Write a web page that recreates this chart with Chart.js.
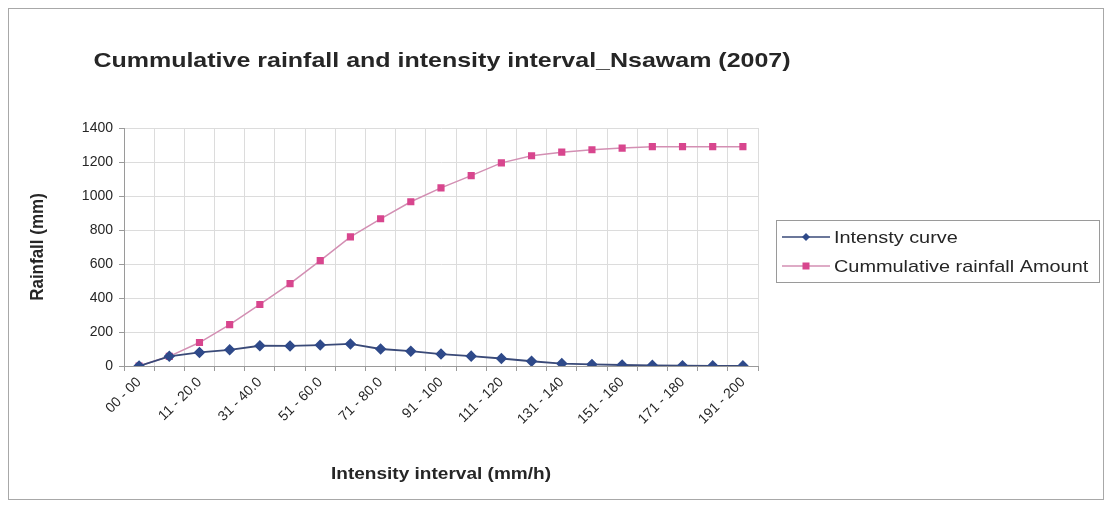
<!DOCTYPE html>
<html>
<head>
<meta charset="utf-8">
<script src="https://cdn.jsdelivr.net/npm/chart.js@4"></script>
<style>
html,body{margin:0;padding:0;background:#fff;}
#wrap{position:absolute;left:0;top:0;width:1111px;height:507px;}
</style>
</head>
<body>
<div id="wrap"><canvas id="c" width="1111" height="507"></canvas></div>
<script>
const titleText = "Cummulative rainfall and intensity interval_Nsawam (2007)";
const xAxisTitle = "Intensity interval (mm/h)";
const yAxisTitle = "Rainfall (mm)";
const categories = ["00 - 00","1 - 10.0","11 - 20.0","21 - 30.0","31 - 40.0","41 - 50.0","51 - 60.0","61 - 70.0","71 - 80.0","81 - 90.0","91 - 100","101 - 110","111 - 120","121 - 130","131 - 140","141 - 150","151 - 160","161 - 170","171 - 180","181 - 190","191 - 200"];
const intensityCurve = [0, 57, 80, 95, 119, 118, 123, 130, 100, 87, 70, 58, 44, 28, 14, 9, 6, 4, 2, 1, 1];
const cumulativeRainfall = [0, 57, 138, 243, 362, 485, 620, 760, 866, 966, 1048, 1120, 1195, 1237, 1258, 1272, 1282, 1290, 1290, 1290, 1290];
const seriesNames = ["Intensty curve", "Cummulative rainfall Amount"];
const yTicks = [0, 200, 400, 600, 800, 1000, 1200, 1400];

const FONT = "'Liberation Sans', Arial, sans-serif";
const TEXT = '#262626';

function stretchedText(ctx, text, x, y, sx, align) {
  ctx.save();
  ctx.translate(x, y);
  ctx.scale(sx, 1);
  ctx.textAlign = align;
  ctx.textBaseline = 'middle';
  ctx.fillText(text, 0, 0);
  ctx.restore();
}

const framePlugin = {
  id: 'frame',
  beforeDraw(chart) {
    const ctx = chart.ctx;
    ctx.save();
    ctx.fillStyle = '#fff';
    ctx.fillRect(0, 0, chart.width, chart.height);
    ctx.strokeStyle = '#a8a8a8';
    ctx.lineWidth = 1;
    ctx.strokeRect(8.5, 8.5, 1095, 491);
    ctx.restore();
  },
  afterDraw(chart) {
    const ctx = chart.ctx;
    const area = chart.chartArea;
    ctx.save();
    ctx.fillStyle = TEXT;
    // chart title
    ctx.font = "bold 21px " + FONT;
    stretchedText(ctx, titleText, 442, 61, 1.19, 'center');
    // x axis title
    ctx.font = "bold 17px " + FONT;
    stretchedText(ctx, xAxisTitle, (area.left + area.right) / 2, 474, 1.12, 'center');
    // y axis title (rotated)
    ctx.save();
    ctx.translate(38, (area.top + area.bottom) / 2);
    ctx.rotate(-Math.PI / 2);
    ctx.scale(1, 1.12);
    ctx.font = "bold 17px " + FONT;
    ctx.textAlign = 'center';
    ctx.textBaseline = 'middle';
    ctx.fillText(yAxisTitle, 0, 0);
    ctx.restore();
    // legend box
    ctx.strokeStyle = '#9a9a9a';
    ctx.lineWidth = 1;
    ctx.strokeRect(776.5, 220.5, 323, 62);
    const rows = [237, 266];
    chart.data.datasets.forEach((ds, i) => {
      const y = rows[i];
      ctx.strokeStyle = ds.borderColor;
      ctx.lineWidth = 1.5;
      ctx.beginPath();
      ctx.moveTo(782, y);
      ctx.lineTo(830, y);
      ctx.stroke();
      ctx.fillStyle = ds.pointBackgroundColor;
      const cx = 806;
      if (ds.pointStyle === 'rectRot') {
        ctx.beginPath();
        ctx.moveTo(cx, y - 4); ctx.lineTo(cx + 4, y); ctx.lineTo(cx, y + 4); ctx.lineTo(cx - 4, y); ctx.closePath();
        ctx.fill();
      } else {
        ctx.fillRect(cx - 3.5, y - 3.5, 7, 7);
      }
      ctx.fillStyle = TEXT;
      ctx.font = "17px " + FONT;
      stretchedText(ctx, ds.label, 834, y + 1, 1.17, 'left');
    });
    ctx.restore();
  }
};

new Chart(document.getElementById('c'), {
  type: 'line',
  data: {
    labels: categories,
    datasets: [
      {
        label: seriesNames[0],
        data: intensityCurve,
        borderColor: '#3a4a78',
        backgroundColor: '#2f4a8a',
        pointBackgroundColor: '#2f4a8a',
        pointBorderColor: '#2f4a8a',
        pointStyle: 'rectRot',
        pointRadius: 4.5,
        borderWidth: 1.8,
        tension: 0
      },
      {
        label: seriesNames[1],
        data: cumulativeRainfall,
        borderColor: '#d38fb3',
        backgroundColor: '#d8468e',
        pointBackgroundColor: '#d8468e',
        pointBorderColor: '#d8468e',
        pointStyle: 'rect',
        pointRadius: 4,
        borderWidth: 1.5,
        tension: 0
      }
    ]
  },
  options: {
    responsive: false,
    animation: false,
    layout: { padding: { left: 27, top: 128, right: 353, bottom: 22 } },
    plugins: { legend: { display: false }, title: { display: false }, tooltip: { enabled: false } },
    scales: {
      x: {
        offset: true,
        grid: { offset: true, color: '#dcdcdc', tickColor: '#9a9a9a', tickLength: 5 },
        border: { color: '#9a9a9a' },
        ticks: {
          autoSkip: false,
          maxRotation: 45, minRotation: 45,
          color: TEXT,
          font: { family: FONT, size: 14 },
          callback: function(v, i) { return i % 2 === 0 ? categories[i] : ''; }
        },
        title: { display: false },
        afterFit(scale) { scale.height = 119; }
      },
      y: {
        min: 0, max: 1400,
        afterBuildTicks(scale) { scale.ticks = yTicks.map(v => ({ value: v })); },
        grid: { color: '#dcdcdc', tickColor: '#9a9a9a', tickLength: 5 },
        border: { color: '#9a9a9a' },
        ticks: { color: TEXT, font: { family: FONT, size: 14 }, padding: 6, callback: v => String(v) },
        title: { display: false },
        afterFit(scale) { scale.width = 97; }
      }
    }
  },
  plugins: [framePlugin]
});
</script>
</body>
</html>
